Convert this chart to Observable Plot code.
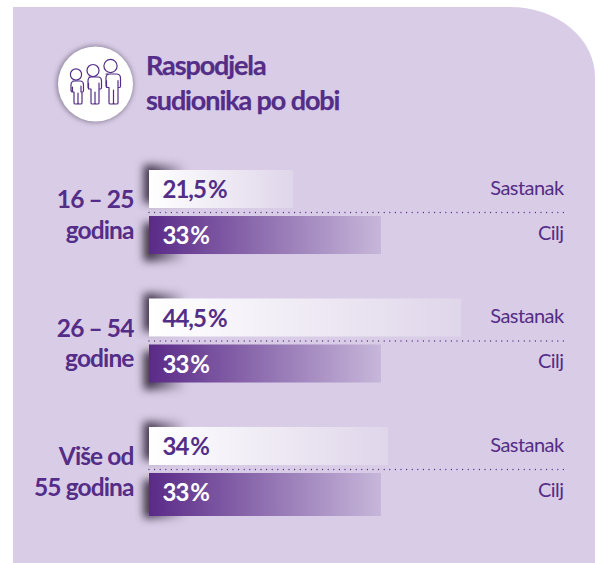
<!DOCTYPE html>
<html><head><meta charset="utf-8">
<script src="https://cdn.jsdelivr.net/npm/d3@7"></script>
<script src="https://cdn.jsdelivr.net/npm/@observablehq/plot@0.6"></script>
<style>
html,body{margin:0;padding:0;background:#fff;width:595px;height:563px;overflow:hidden}
#panel{position:absolute;left:13px;top:7px;right:0;bottom:0;background:#d9cce6;border-top-right-radius:85px 70px}
#chart{position:absolute;left:0;top:0}
#chart svg{display:block;background:transparent}
#chart g[font-size="24"] text{letter-spacing:-1px}
#chart g[font-size="20"] text{letter-spacing:-.55px}
#chart g[font-size="24.5"] text{letter-spacing:-.9px}
#title{position:absolute;left:146px;top:47px;font:700 27px/35px Lato,sans-serif;letter-spacing:-1.1px;color:#532d87;white-space:nowrap;-webkit-text-stroke:.25px #532d87}
#icon{position:absolute;left:50px;top:40px}
</style></head><body>
<div id="panel"></div>
<div id="chart"></div>
<svg id="icon" width="90" height="90" viewBox="50 40 90 90" style="overflow:visible">
<defs><filter id="cs" x="-30%" y="-30%" width="160%" height="160%"><feGaussianBlur stdDeviation="2.5"/></filter></defs>
<circle cx="95" cy="84" r="38.5" fill="#4a4058" opacity=".55" filter="url(#cs)"/>
<circle cx="95.5" cy="84" r="37.5" fill="#fff"/>
<g fill="none" stroke="#532d87" stroke-width="1.2" stroke-linejoin="round" stroke-linecap="round">
<circle cx="76" cy="74.500" r="5.6"/><circle cx="93" cy="70.500" r="6"/><circle cx="110.500" cy="66" r="6.600"/>
<path d="M73 81h7q3.500 0 3.500 4v5.500q0 1.500-1 1.500h-1.500v-6M82 92v11q0 1-1.500 1h-1q-1.500 0-1.500-1v-10m0 10q0 1-1.500 1h-1q-1.500 0-1.500-1v-11h-1.500q-1 0-1.500-1.500v-5.500q0-4 4-4M72.500 87v5"/>
<path d="M89 77h9q3.500 0 3.500 4v6.500q0 1.500-1 1.500h-1.500v-6M99 89v14q0 1-1.500 1h-1q-1.500 0-1.500-1v-11m0 11q0 1-1.500 1h-1q-1.500 0-1.500-1v-14h-1.500q-1 0-1.500-1.500v-6.500q0-4 3.500-4M88.500 83v6"/>
<path d="M106 74h10q4.500 0 4.500 4v8q0 1.500-1 1.500h-1.500v-7M118 87.500v15.500q0 1-1.500 1h-1.500q-1.500 0-1.500-1v-13m0 13q0 1-1.500 1h-1.500q-1.500 0-1.500-1v-15.500h-1q-1.500 0-2-1.500v-8q0-4 4-4M106.500 80.500v7"/>
</g>
</svg>
<div id="title">Raspodjela<br>sudionika po dobi</div>
<script>
const groups = ["16 – 25\ngodina", "26 – 54\ngodine", "Više od\n55 godina"];
const series = ["Sastanak", "Cilj"];
const drawnLengths = [20.5, 33, 44.4, 33, 34, 33];
const valueLabels = ["21,5\u2009%", "33\u2009%", "44,5\u2009%", "33\u2009%", "34\u2009%", "33\u2009%"];
const rows = drawnLengths.map((v, i) => ({group: groups[i >> 1], series: series[i % 2], value: v, label: valueLabels[i]}));
const purple = "#532d87";
const font = "Lato, sans-serif";

const gradient = (id, stops) => () => {
  const defs = d3.create("svg:defs");
  const g = defs.append("linearGradient").attr("id", id);
  stops.forEach(([o, c, a]) => g.append("stop").attr("offset", o).attr("stop-color", c).attr("stop-opacity", a ?? 1));
  return defs.node();
};
const isS = d => d.series === "Sastanak";
const isC = d => !isS(d);
const last = rows[5];
const shadow = (data, dx, dy) => Plot.barX(data, {
  fy: "group", y: "series", x1: () => 0, x2: () => 6, dx, dy,
  fill: "url(#shadow)", imageFilter: "blur(4.5px)"
});
const seriesLabel = (data, dy) => Plot.text(data, {fy: "group", y: "series", text: "series",
  frameAnchor: "right", dx: -32, dy, textAnchor: "end", fontSize: 20, fill: purple});
const chart = Plot.plot({
  width: 595, height: 563,
  marginTop: 170, marginBottom: 52, marginLeft: 0, marginRight: 0,
  style: {background: "transparent", fontFamily: font},
  x: {domain: [0, 63.44], range: [149, 595], axis: null},
  y: {domain: series, paddingInner: 0.174, paddingOuter: 0, round: false, axis: null, label: null},
  fy: {domain: groups, paddingInner: 0.346, paddingOuter: 0, round: false, axis: null, label: null},
  marks: [
    gradient("white", [[0, "#ffffff"], [1, "#dfd6ea"]]),
    gradient("violet", [[0, "#5a2a88"], [1, "#c7b7da"]]),
    gradient("shadow", [[0, "#1e1428", .95], [1, "#1e1428", 0]]),
    shadow(rows.filter(isS), -5, -5),
    shadow(rows.filter(isC), -5, 7),
    Plot.barX(rows.filter(isS), {fy: "group", y: "series", x: "value", fill: "url(#white)"}),
    Plot.barX(rows.filter(d => isC(d) && d !== last), {fy: "group", y: "series", x: "value", fill: "url(#violet)"}),
    Plot.barX([last], {fy: "group", y: "series", x: "value", fill: "url(#violet)", insetBottom: -5}),
    Plot.ruleY(groups, {fy: d => d, y: () => "Sastanak", dy: 23, x1: () => 0, x2: () => 59,
      stroke: purple, strokeWidth: 1.3, strokeDasharray: "0 5.6", strokeLinecap: "round"}),
    Plot.text(rows, {fy: "group", y: "series", x: () => 0, text: "label", dx: 13, dy: 1, textAnchor: "start",
      fontSize: 24, fontWeight: 700, fill: d => isS(d) ? purple : "#fff"}),
    seriesLabel(rows.filter(isS), -1),
    seriesLabel(rows.filter(isC), -2),
    Plot.text(groups, {fy: d => d, text: d => d, frameAnchor: "left", dx: 133, dy: 1, textAnchor: "end",
      fontSize: 24.5, fontWeight: 700, fill: purple, lineHeight: 1.25})
  ]
});
document.getElementById("chart").append(chart);
</script>
</body></html>
